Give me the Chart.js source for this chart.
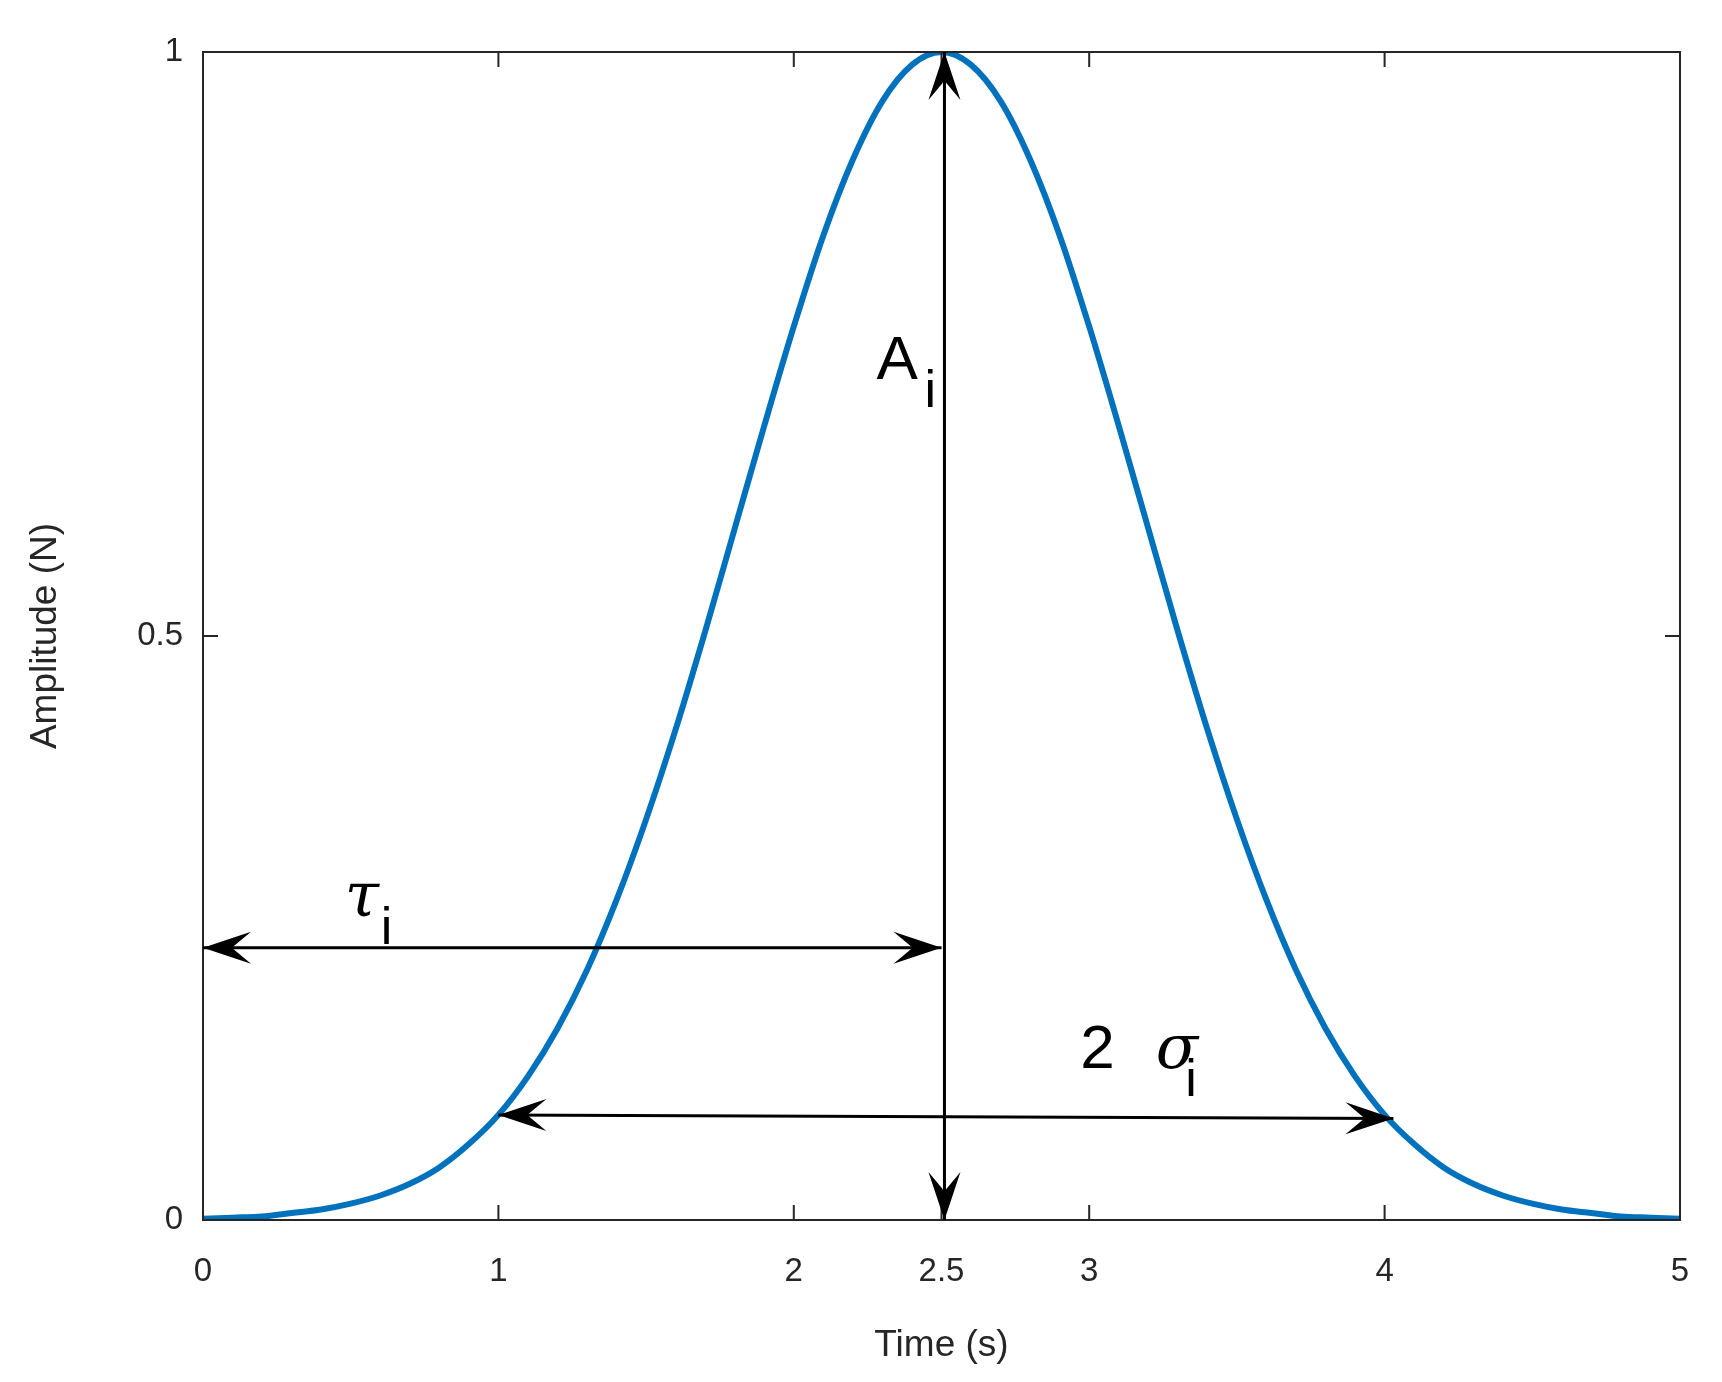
<!DOCTYPE html>
<html>
<head>
<meta charset="utf-8">
<script src="https://cdn.jsdelivr.net/npm/chart.js@4.4.1/dist/chart.umd.min.js"></script>
<style>
  html, body { margin: 0; padding: 0; background: #fff; }
  canvas { display: block; }
</style>
</head>
<body>
<canvas id="chartCanvas" width="1722" height="1382"></canvas>
<script>
// values (Gaussian pulse, peak at 2.5 s)
const times = [0,0.1,0.2,0.3,0.4,0.5,0.6,0.7,0.8,0.9,1,1.1,1.2,1.3,1.4,1.5,1.6,1.7,1.8,1.9,2,2.1,2.2,2.3,2.4,2.5,
  2.6,2.7,2.8,2.9,3,3.1,3.2,3.3,3.4,3.5,3.6,3.7,3.8,3.9,4,4.1,4.2,4.3,4.4,4.5,4.6,4.7,4.8,4.9,5];
const amplitude = [0.001,0.002,0.003,0.006,0.009,0.014,0.021,0.031,0.045,0.065,0.090,0.123,0.164,0.214,0.274,0.343,
  0.420,0.504,0.592,0.680,0.765,0.843,0.908,0.958,0.989,1,
  0.989,0.958,0.908,0.843,0.765,0.680,0.592,0.504,0.420,0.343,0.274,0.214,0.164,0.123,0.090,
  0.065,0.045,0.031,0.021,0.014,0.009,0.006,0.003,0.002,0.001];
const xTicks = [0, 1, 2, 2.5, 3, 4, 5];
const yTicks = [0, 0.5, 1];

// arrows: [x1, y1, x2, y2, heads]
const arrows = [
  [2.51, 0, 2.51, 1, 'both'],
  [0, 0.233, 2.5, 0.233, 'both'],
  [1, 0.090, 4.03, 0.087, 'both']
];
// labels: [main, sub, x, y]
const labels = [
  ['A', 'i', 2.28, 0.72],
  ['\u03c4', 'i', 0.48, 0.26],
  ['2\u03c3', 'i', 2.97, 0.13]
];

const axisColor = '#262626';

const decorations = {
  id: 'decorations',
  afterDatasetsDraw(chart) {
    const { ctx, chartArea: a, scales: { x, y } } = chart;
    ctx.save();
    // box
    ctx.strokeStyle = axisColor;
    ctx.lineWidth = 2;
    ctx.strokeRect(a.left, a.top, a.right - a.left, a.bottom - a.top);
    // inner ticks on all sides
    const tl = 15;
    ctx.beginPath();
    xTicks.forEach(t => {
      const px = x.getPixelForValue(t);
      ctx.moveTo(px, a.bottom); ctx.lineTo(px, a.bottom - tl);
      ctx.moveTo(px, a.top); ctx.lineTo(px, a.top + tl);
    });
    yTicks.forEach(t => {
      const py = y.getPixelForValue(t);
      ctx.moveTo(a.left, py); ctx.lineTo(a.left + tl, py);
      ctx.moveTo(a.right, py); ctx.lineTo(a.right - tl, py);
    });
    ctx.stroke();

    // arrows
    ctx.strokeStyle = '#000';
    ctx.fillStyle = '#000';
    ctx.lineWidth = 3;
    const head = (px, py, ang) => {
      const L = 48, W = 16;
      ctx.beginPath();
      ctx.moveTo(px, py);
      ctx.lineTo(px - L * Math.cos(ang) + W * Math.sin(ang), py - L * Math.sin(ang) - W * Math.cos(ang));
      ctx.lineTo(px - 0.6 * L * Math.cos(ang), py - 0.6 * L * Math.sin(ang));
      ctx.lineTo(px - L * Math.cos(ang) - W * Math.sin(ang), py - L * Math.sin(ang) + W * Math.cos(ang));
      ctx.closePath();
      ctx.fill();
    };
    arrows.forEach(([x1, y1, x2, y2]) => {
      const p1 = [x.getPixelForValue(x1), y.getPixelForValue(y1)];
      const p2 = [x.getPixelForValue(x2), y.getPixelForValue(y2)];
      ctx.beginPath();
      ctx.moveTo(p1[0], p1[1]); ctx.lineTo(p2[0], p2[1]);
      ctx.stroke();
      const ang = Math.atan2(p2[1] - p1[1], p2[0] - p1[0]);
      head(p2[0], p2[1], ang);
      head(p1[0], p1[1], ang + Math.PI);
    });

    // labels
    ctx.textBaseline = 'alphabetic';
    ctx.textAlign = 'left';
    labels.forEach(([main, sub, lx, ly]) => {
      const px = x.getPixelForValue(lx), py = y.getPixelForValue(ly);
      ctx.font = (main.length > 1 ? '' : '') + '62px Arial, "Liberation Sans", sans-serif';
      if (main === '\u03c4' || main === '2\u03c3') {
        ctx.font = '62px Arial, "Liberation Sans", sans-serif';
        if (main === '2\u03c3') {
          ctx.fillText('2', px, py);
          ctx.font = 'italic 62px "DejaVu Serif", serif';
          ctx.fillText('\u03c3', px + ctx.measureText('2').width + 36, py);
        } else {
          ctx.font = 'italic 62px "DejaVu Serif", serif';
          ctx.fillText('\u03c4', px, py);
        }
      } else {
        ctx.fillText(main, px, py);
      }
      const w = main === '2\u03c3' ? 105 : main === 'A' ? 48 : 36;
      ctx.font = '52px Arial, "Liberation Sans", sans-serif';
      ctx.fillText(sub, px + w, py + 28);
    });
    ctx.restore();
  }
};

new Chart(document.getElementById('chartCanvas').getContext('2d'), {
  type: 'line',
  data: {
    labels: times,
    datasets: [{
      data: times.map((t, i) => ({ x: t, y: amplitude[i] })),
      borderColor: '#0072BD',
      borderWidth: 6,
      pointRadius: 0,
      cubicInterpolationMode: 'monotone',
      fill: false
    }]
  },
  options: {
    responsive: false,
    animation: false,
    devicePixelRatio: 1,
    layout: { padding: { top: 52, right: 42, bottom: 10, left: 20 } },
    plugins: { legend: { display: false }, tooltip: { enabled: false } },
    scales: {
      x: {
        type: 'linear', min: 0, max: 5,
        afterBuildTicks: s => { s.ticks = xTicks.map(v => ({ value: v })); },
        grid: { display: false },
        border: { display: false },
        ticks: { color: axisColor, font: { size: 33, family: 'Arial, "Liberation Sans", sans-serif' }, padding: 24, maxRotation: 0, callback: v => String(v) },
        title: { display: true, text: 'Time (s)', color: axisColor, font: { size: 37, family: 'Arial, "Liberation Sans", sans-serif' }, padding: { top: 8 } }
      },
      y: {
        type: 'linear', min: 0, max: 1,
        afterBuildTicks: s => { s.ticks = yTicks.map(v => ({ value: v })); },
        afterFit: s => { s.width = 183; },
        grid: { display: false },
        border: { display: false },
        ticks: { color: axisColor, font: { size: 33, family: 'Arial, "Liberation Sans", sans-serif' }, padding: 12, callback: v => String(v) },
        title: { display: true, text: 'Amplitude (N)', color: axisColor, font: { size: 37, family: 'Arial, "Liberation Sans", sans-serif' }, padding: { bottom: 20 } }
      }
    }
  },
  plugins: [decorations]
});
</script>
</body>
</html>
